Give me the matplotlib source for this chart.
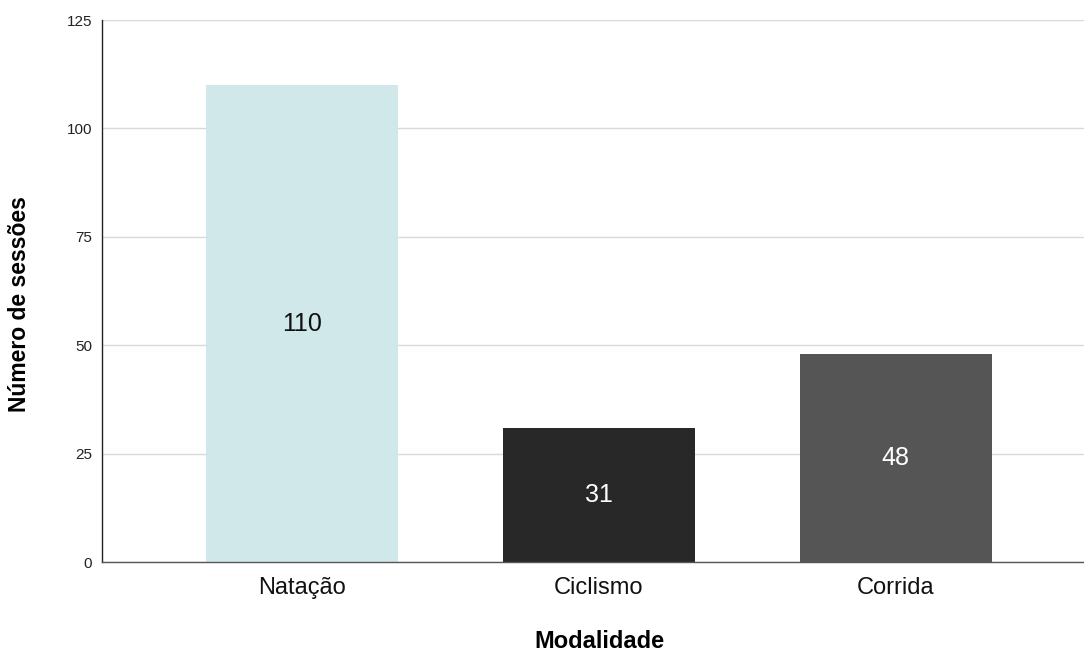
import matplotlib
matplotlib.use("Agg")
import matplotlib.pyplot as plt

categories = ["Natação", "Ciclismo", "Corrida"]
values = [110, 31, 48]
colors = ["#d1e8ea", "#282828", "#555555"]
label_colors = ["#111111", "#ffffff", "#ffffff"]
yticks = [0, 25, 50, 75, 100, 125]

plt.rcParams['font.family'] = ['Liberation Sans', 'DejaVu Sans']

W, H = 1084, 652
fig = plt.figure(figsize=(W/100, H/100), dpi=100)
ax = fig.add_axes([102/W, 1-562/H, 982/W, 542/H])

x = list(range(len(categories)))
bars = ax.bar(x, values, width=0.647, color=colors, zorder=2)
for xi, v, lc in zip(x, values, label_colors):
    ax.text(xi, v/2, str(v), ha='center', va='center', fontsize=18, color=lc, zorder=3)

ax.set_xlim(-0.674, 2.635)
ax.set_ylim(0, 125)
ax.set_yticks(yticks)
ax.set_yticklabels([str(t) for t in yticks], fontsize=11, color='#222222')
ax.set_xticks(x)
ax.set_xticklabels(categories, fontsize=17, color='#111111')
ax.tick_params(axis='both', length=0)
ax.tick_params(axis='y', pad=7)
ax.tick_params(axis='x', pad=11)
ax.yaxis.grid(True, color='#d9d9d9', linewidth=1, zorder=0)
ax.set_axisbelow(True)
for s in ['top', 'right']:
    ax.spines[s].set_visible(False)
ax.spines['left'].set_color('#222222')
ax.spines['bottom'].set_color('#555555')
ax.spines['left'].set_linewidth(1)
ax.spines['bottom'].set_linewidth(1)

ax.set_xlabel("Modalidade", fontsize=17, fontweight='bold', va='baseline')
ax.xaxis.set_label_coords((599-102)/982, (562-648)/542)
ax.set_ylabel("Número de sessões", fontsize=16.5, fontweight='bold', va='center')
ax.yaxis.set_label_coords((20-102)/982, (562-304)/542)

fig.savefig("out.png", dpi=100, facecolor='white')
